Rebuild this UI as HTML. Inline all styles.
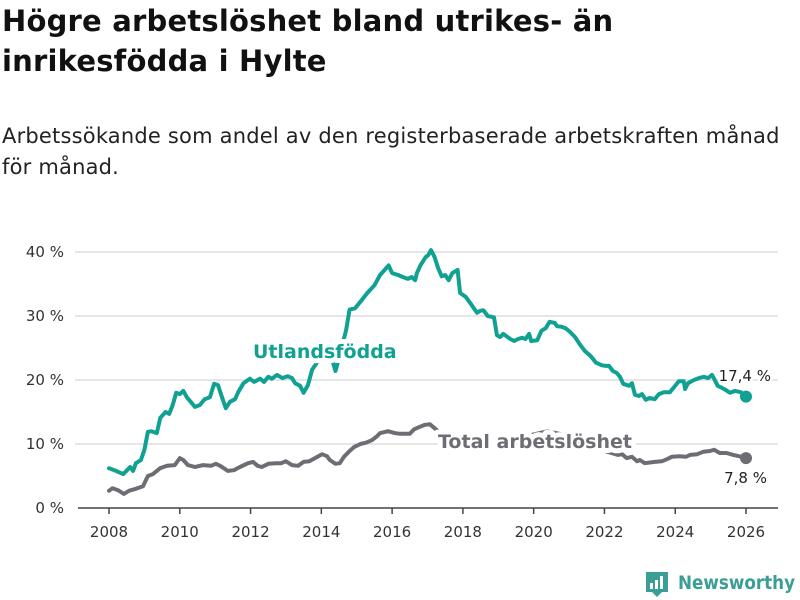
<!DOCTYPE html>
<html><head><meta charset="utf-8">
<style>
body{margin:0;background:#fff;width:800px;height:600px;overflow:hidden;font-family:"Liberation Sans",sans-serif;}
h1{position:absolute;left:2px;top:1px;margin:0;font-family:"DejaVu Sans","Liberation Sans",sans-serif;font-weight:bold;font-size:29px;line-height:40px;color:#111;letter-spacing:0.2px;white-space:nowrap;}
.sub{position:absolute;left:2px;top:121px;margin:0;font-family:"DejaVu Sans","Liberation Sans",sans-serif;font-size:21px;line-height:31px;color:#222;letter-spacing:0.2px;white-space:nowrap;}
svg{position:absolute;left:0;top:0;}
</style></head><body>
<h1>Högre arbetslöshet bland utrikes- än<br>inrikesfödda i Hylte</h1>
<p class="sub">Arbetssökande som andel av den registerbaserade arbetskraften månad<br>för månad.</p>
<svg id="chart" width="800" height="600"></svg>
<script>
const yTicks=[0,10,20,30,40];
const yTickLabels=["0 %","10 %","20 %","30 %","40 %"];
const xTicks=[2008,2010,2012,2014,2016,2018,2020,2022,2024,2026];
const utlT=[2008,2008.2,2008.4,2008.6,2008.68,2008.76,2008.9,2009,2009.1,2009.2,2009.35,2009.45,2009.6,2009.7,2009.8,2009.9,2010,2010.1,2010.2,2010.43,2010.57,2010.7,2010.85,2010.97,2011.08,2011.2,2011.3,2011.42,2011.56,2011.65,2011.8,2011.98,2012.1,2012.27,2012.38,2012.5,2012.6,2012.75,2012.9,2013.05,2013.17,2013.26,2013.4,2013.5,2013.62,2013.74,2013.85,2014.0,2014.25,2014.4,2014.55,2014.7,2014.8,2014.95,2015.1,2015.3,2015.5,2015.66,2015.9,2016,2016.17,2016.3,2016.45,2016.55,2016.65,2016.7,2016.8,2016.95,2017.02,2017.1,2017.2,2017.3,2017.4,2017.5,2017.6,2017.7,2017.85,2017.92,2018.08,2018.25,2018.4,2018.48,2018.58,2018.7,2018.88,2018.96,2019.05,2019.14,2019.34,2019.45,2019.56,2019.67,2019.77,2019.87,2019.93,2020.1,2020.22,2020.34,2020.45,2020.6,2020.66,2020.8,2020.9,2021.03,2021.17,2021.3,2021.45,2021.6,2021.76,2021.93,2022.04,2022.13,2022.24,2022.35,2022.44,2022.53,2022.7,2022.78,2022.86,2022.97,2023.06,2023.17,2023.28,2023.42,2023.54,2023.68,2023.85,2023.97,2024.1,2024.24,2024.28,2024.36,2024.53,2024.67,2024.81,2024.93,2025.04,2025.1,2025.2,2025.38,2025.55,2025.69,2025.85,2026];
const utlV=[6.2,5.8,5.3,6.4,5.8,7.0,7.5,9.1,11.9,12.0,11.7,14.1,15.0,14.7,16.1,18.0,17.8,18.3,17.3,15.8,16.1,17.0,17.3,19.4,19.2,17.2,15.6,16.6,17.0,18.1,19.5,20.2,19.7,20.2,19.7,20.5,20.2,20.8,20.3,20.6,20.3,19.5,19.1,18.0,19.2,21.6,22.5,24.0,24.2,21.4,24.5,27.8,31.0,31.2,32.2,33.6,34.8,36.4,37.9,36.7,36.4,36.1,35.8,36.1,35.6,36.7,37.9,39.2,39.5,40.3,39.2,37.5,36.2,36.4,35.6,36.7,37.2,33.6,33.0,31.7,30.5,30.8,30.9,30.0,29.8,27.0,26.7,27.2,26.4,26.1,26.4,26.6,26.4,27.2,26.1,26.2,27.7,28.1,29.1,28.9,28.4,28.3,28.1,27.5,26.7,25.6,24.5,23.8,22.7,22.3,22.2,22.2,21.4,21.1,20.5,19.4,19.1,19.5,17.7,17.5,17.8,16.9,17.2,17.0,17.8,18.1,18.1,18.9,19.8,19.8,18.6,19.5,20.0,20.3,20.5,20.3,20.8,20.2,19.1,18.6,18.0,18.3,18.1,17.4];
const totT=[2008,2008.1,2008.25,2008.42,2008.57,2008.76,2008.96,2009.1,2009.24,2009.44,2009.64,2009.86,2010,2010.1,2010.23,2010.43,2010.66,2010.88,2011.02,2011.14,2011.36,2011.53,2011.7,2011.93,2012.07,2012.2,2012.32,2012.5,2012.72,2012.86,2013,2013.17,2013.34,2013.5,2013.66,2013.82,2014.02,2014.16,2014.24,2014.4,2014.52,2014.64,2014.78,2014.92,2015.1,2015.26,2015.43,2015.57,2015.66,2015.88,2016.08,2016.22,2016.5,2016.62,2016.79,2016.93,2017.07,2017.15,2017.3,2017.6,2018,2018.5,2019,2019.5,2020,2020.4,2020.8,2021.3,2021.7,2022,2022.07,2022.2,2022.38,2022.5,2022.63,2022.78,2022.92,2023.0,2023.14,2023.42,2023.62,2023.8,2023.9,2024.13,2024.3,2024.42,2024.62,2024.8,2024.98,2025.1,2025.26,2025.45,2025.64,2025.8,2026];
const totV=[2.7,3.1,2.8,2.2,2.7,3.0,3.4,5.0,5.3,6.2,6.6,6.7,7.8,7.5,6.7,6.4,6.7,6.6,6.9,6.6,5.8,5.9,6.4,7.0,7.2,6.6,6.4,6.9,7.0,7.0,7.3,6.7,6.6,7.2,7.3,7.8,8.4,8.1,7.5,6.9,7.0,8.0,8.8,9.5,10.0,10.2,10.6,11.2,11.7,12.0,11.7,11.6,11.6,12.3,12.7,13.0,13.1,12.7,12.0,11.0,10.3,9.6,10.0,10.8,11.5,12.0,11.5,10.5,9.5,9.0,8.8,8.6,8.3,8.4,7.8,8.0,7.3,7.5,7.0,7.2,7.3,7.7,8.0,8.1,8.0,8.3,8.4,8.8,8.9,9.1,8.6,8.6,8.3,8.1,7.8];
const NS="http://www.w3.org/2000/svg";
const svg=document.getElementById('chart');
const X0=2008,X1=2026,PX0=109,PX1=746,PY0=508,PY40=252;
const xs=t=>PX0+(t-X0)*(PX1-PX0)/(X1-X0);
const ys=v=>PY0+(v/40)*(PY40-PY0);
function mk(tag,attrs,parent){const e=document.createElementNS(NS,tag);for(const k in attrs)e.setAttribute(k,attrs[k]);(parent||svg).appendChild(e);return e;}
const grid=mk('g',{});


yTicks.forEach((v,i)=>{
  if(v>0){const l=mk('line',{x1:75,x2:778,y1:ys(v),y2:ys(v),stroke:'#dedede','stroke-width':1.5},grid);
  
  }
  const t=mk('text',{x:64,y:ys(v)+5,'text-anchor':'end','font-size':15,fill:'#333','font-family':'DejaVu Sans, Liberation Sans, sans-serif'});
  t.textContent=yTickLabels[i];
  
  
});
const ax=mk('line',{x1:78,x2:778,y1:PY0,y2:PY0,stroke:'#444','stroke-width':1.5});


xTicks.forEach(v=>{
  mk('line',{x1:xs(v),x2:xs(v),y1:PY0,y2:PY0+6,stroke:'#444','stroke-width':1.5});
  const t=mk('text',{x:xs(v),y:537,'text-anchor':'middle','font-size':15,fill:'#333','font-family':'DejaVu Sans, Liberation Sans, sans-serif'});
  t.textContent=v;
  
  
});
function line(T,V,col,name){
  const d=T.map((t,i)=>(i?'L':'M')+xs(t).toFixed(1)+','+ys(V[i]).toFixed(1)).join('');
  const p=mk('path',{d:d,fill:'none',stroke:col,'stroke-width':4,'stroke-linejoin':'round','stroke-linecap':'round'});
  
  
  const c=mk('circle',{cx:xs(T[T.length-1]),cy:ys(V[V.length-1]),r:6,fill:col});
  
  
}
line(totT,totV,'#6e6d73','total-line');
line(utlT,utlV,'#10a193','utlandsfodda-line');
function lab(x,y,txt,col,size,bold,anchor,name){
  const t=mk('text',{x:x,y:y,'text-anchor':anchor,'font-size':size,fill:col,'font-weight':bold?'bold':'normal',stroke:'#fff','stroke-width':bold?10:5,'paint-order':'stroke','stroke-linejoin':'round','font-family':'DejaVu Sans, Liberation Sans, sans-serif'});
  t.textContent=txt;
  
  
}
lab(253,358,'Utlandsfödda','#10a193',19,true,'start','utlandsfodda-label');
lab(438,448,'Total arbetslöshet','#6e6d73',19,true,'start','total-label');
lab(771,381,'17,4 %','#222',15,false,'end','utlandsfodda-end-value');
lab(767,483,'7,8 %','#222',15,false,'end','total-end-value');
const logo=mk('g',{});


mk('path',{d:'M646,572 h22 v20 h-6 l-5,5 l-5,-5 h-6 z',fill:'#3a9e95'},logo);
mk('rect',{x:650,y:583,width:3,height:6,fill:'#fff'},logo);
mk('rect',{x:655,y:580,width:3,height:9,fill:'#fff'},logo);
mk('rect',{x:660,y:576,width:3,height:13,fill:'#fff'},logo);
const lt=mk('text',{x:678,y:589,'font-size':19,fill:'#3a9e95','font-weight':'bold',textLength:117,lengthAdjust:'spacingAndGlyphs','font-family':'DejaVu Sans, Liberation Sans, sans-serif'},logo);
lt.textContent='Newsworthy';
</script>
</body></html>
